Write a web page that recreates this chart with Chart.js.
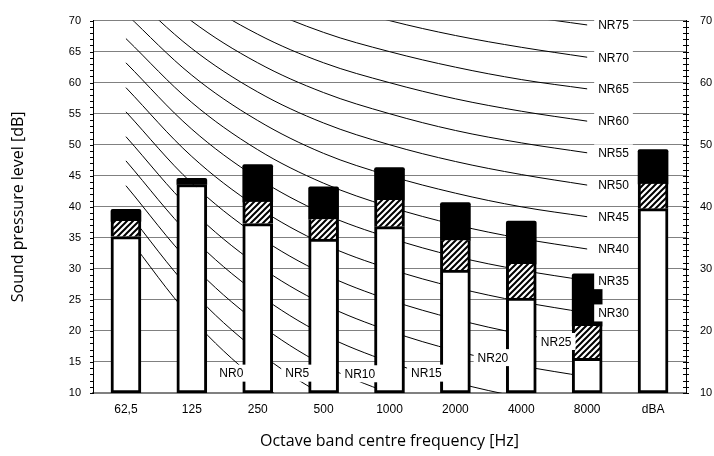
<!DOCTYPE html>
<html>
<head>
<meta charset="utf-8">
<script src="https://cdn.jsdelivr.net/npm/chart.js@4.4.1/dist/chart.umd.min.js"></script>
<style>
  body { margin: 0; background: #fff; }
</style>
</head>
<body>
<canvas id="nrChart" width="714" height="456"></canvas>
<script>
// Octave bands on the x axis
var bands = ['62,5', '125', '250', '500', '1000', '2000', '4000', '8000', 'dBA'];

// Measured levels in dB: top of white part, top of hatched part, top of bar
var baseLevel = [35.2, 43.6, 37.3, 34.8, 36.8, 29.8, 25.3, 15.6, 39.7];
var hatchLevel = [37.7, 43.6, 40.8, 38.0, 41.1, 34.6, 30.8, 20.8, 43.7];
var topLevel = [39.6, 44.6, 46.8, 43.2, 46.3, 40.7, 37.7, 29.2, 49.2];

// Noise rating curves, 62,5 .. 8000 Hz (dB)
var nr0 = [35.5, 22.0, 12.0, 4.8, 0, -3.5, -6.1, -8.0];
var nr5 = [39.5, 26.4, 16.7, 9.7, 5, 1.6, -1.0, -2.9];
var nr10 = [43.4, 30.7, 21.3, 14.5, 10, 6.7, 4.2, 2.3];
var nr15 = [47.4, 35.1, 26.0, 19.4, 15, 11.7, 9.3, 7.5];
var nr20 = [51.3, 39.4, 30.6, 24.3, 20, 16.8, 14.4, 12.6];
var nr25 = [55.3, 43.8, 35.3, 29.2, 25, 21.9, 19.5, 17.8];
var nr30 = [59.2, 48.1, 39.9, 34.0, 30, 27.0, 24.7, 22.9];
var nr35 = [63.2, 52.5, 44.6, 38.9, 35, 32.0, 29.8, 28.1];
var nr40 = [67.1, 56.8, 49.2, 43.8, 40, 37.1, 34.9, 33.2];
var nr45 = [71.1, 61.2, 53.9, 48.6, 45, 42.2, 40.0, 38.4];
var nr50 = [75.0, 65.5, 58.5, 53.5, 50, 47.3, 45.2, 43.5];
var nr55 = [79.0, 69.9, 63.2, 58.4, 55, 52.3, 50.3, 48.7];
var nr60 = [82.9, 74.2, 67.8, 63.2, 60, 57.4, 55.4, 53.8];
var nr65 = [86.9, 78.6, 72.5, 68.1, 65, 62.5, 60.5, 59.0];
var nr70 = [90.8, 82.9, 77.1, 73.0, 70, 67.6, 65.7, 64.1];
var nr75 = [94.8, 87.3, 81.8, 77.9, 75, 72.6, 70.8, 69.3];

var nrCurves = [nr0, nr5, nr10, nr15, nr20, nr25, nr30, nr35, nr40, nr45, nr50, nr55, nr60, nr65, nr70, nr75];
var nrNames = ['NR0', 'NR5', 'NR10', 'NR15', 'NR20', 'NR25', 'NR30', 'NR35',
               'NR40', 'NR45', 'NR50', 'NR55', 'NR60', 'NR65', 'NR70', 'NR75'];

// where the curve labels sit (band index, dB); higher ones sit at the curve end
var nrLabelBand = [1.6, 2.6, 3.55, 4.56, 5.57, 6.53];
var nrLabelLevel = [13.2, 13.2, 13.1, 13.2, 15.7, 18.3];
var nrEndBand = 7.4;

// hatch pattern for the middle part of the bars
function makeHatch() {
    var c = document.createElement('canvas');
    c.width = 6;
    c.height = 6;
    var g = c.getContext('2d');
    g.fillStyle = '#fff';
    g.fillRect(0, 0, 6, 6);
    g.strokeStyle = '#000';
    g.lineWidth = 2;
    g.beginPath();
    g.moveTo(-1, 7); g.lineTo(7, -1);
    g.moveTo(-4, 4); g.lineTo(4, -4);
    g.moveTo(2, 10); g.lineTo(10, 2);
    g.stroke();
    return g.createPattern(c, 'repeat');
}

var datasets = [];

// bars: white bottom, hatched middle, black top
datasets.push({
    type: 'bar',
    data: bands.map(function (b, i) { return [10, baseLevel[i]]; }),
    backgroundColor: '#fff',
    borderColor: '#000',
    borderWidth: 3,
    borderSkipped: false,
    barThickness: 30,
    grouped: false,
    order: 1
});
datasets.push({
    type: 'bar',
    data: bands.map(function (b, i) { return [baseLevel[i], hatchLevel[i]]; }),
    backgroundColor: makeHatch(),
    borderColor: '#000',
    borderWidth: { left: 3, right: 3, top: 0, bottom: 0 },
    borderSkipped: false,
    barThickness: 30,
    grouped: false,
    order: 1
});
datasets.push({
    type: 'bar',
    data: bands.map(function (b, i) { return [hatchLevel[i], topLevel[i]]; }),
    backgroundColor: '#000',
    borderWidth: 0,
    borderRadius: { topLeft: 2, topRight: 2 },
    borderSkipped: false,
    barThickness: 30,
    grouped: false,
    order: 1
});

nrCurves.forEach(function (curve, i) {
    datasets.push({
        type: 'line',
        label: nrNames[i],
        data: curve.concat([null]),
        borderColor: '#000',
        borderWidth: 1,
        pointRadius: 0,
        tension: 0.35,
        fill: false,
        order: 2
    });
});

// minor ticks on both value axes and the NR curve labels
var nrPlugin = {
    id: 'nrExtras',
    afterDatasetsDraw: function (chart) {
        var ctx = chart.ctx;
        var xs = chart.scales.x, ys = chart.scales.y;
        ctx.save();
        ctx.font = '12px "Liberation Sans", Arial, sans-serif';
        ctx.textAlign = 'center';
        ctx.textBaseline = 'middle';
        nrNames.forEach(function (name, i) {
            var band, level;
            if (i < nrLabelBand.length) {
                band = nrLabelBand[i];
                level = nrLabelLevel[i];
            } else {
                band = nrEndBand;
                level = nrCurves[i][nrCurves[i].length - 1];
            }
            var px = xs.getPixelForValue(band);
            var py = ys.getPixelForValue(level);
            var w = ctx.measureText(name).width;
            ctx.fillStyle = '#fff';
            ctx.fillRect(px - w / 2 - 4, py - 8.5, w + 8, 17);
            ctx.fillStyle = '#000';
            ctx.fillText(name, px, py + 1);
        });
        ctx.restore();
    },
    afterDraw: function (chart) {
        var ctx = chart.ctx;
        var ys = chart.scales.y, ys2 = chart.scales.y2;
        ctx.save();
        ctx.strokeStyle = '#000';
        ctx.lineWidth = 1;
        ctx.beginPath();
        for (var v = 10; v <= 70; v++) {
            var py = Math.round(ys.getPixelForValue(v)) + 0.5;
            ctx.moveTo(ys.right - 3, py);
            ctx.lineTo(ys.right, py);
            ctx.moveTo(ys2.left - 3, py);
            ctx.lineTo(ys2.left + 3, py);
        }
        ctx.stroke();
        ctx.restore();
    }
};

var tickFont = { family: '"Liberation Sans", Arial, sans-serif', size: 11 };
var xTickFont = { family: '"Liberation Sans", Arial, sans-serif', size: 12 };
var titleFont = { family: '"Open Sans", sans-serif', size: 16 };

new Chart(document.getElementById('nrChart').getContext('2d'), {
    type: 'bar',
    data: { labels: bands, datasets: datasets },
    options: {
        responsive: false,
        animation: false,
        layout: { padding: { top: 14, left: 0, right: 0, bottom: 0 } },
        plugins: {
            legend: { display: false },
            tooltip: { enabled: false }
        },
        scales: {
            x: {
                grid: { display: false, drawTicks: false },
                border: { color: '#808080', width: 1.5 },
                ticks: { color: '#000', font: xTickFont, padding: 9 },
                title: {
                    display: true,
                    text: 'Octave band centre frequency [Hz]',
                    color: '#000',
                    font: titleFont,
                    padding: { top: 0, bottom: 5 }
                },
                afterFit: function (s) { s.height = 63; }
            },
            y: {
                position: 'left',
                min: 10,
                max: 70,
                ticks: { stepSize: 5, color: '#000', font: tickFont, padding: 12 },
                grid: { color: '#808080', lineWidth: 1, drawTicks: false },
                border: { color: '#000', width: 1 },
                title: {
                    display: true,
                    text: 'Sound pressure level [dB]',
                    color: '#000',
                    font: titleFont,
                    padding: { top: 9, bottom: 0 }
                },
                afterFit: function (s) { s.width = 93; }
            },
            y2: {
                position: 'right',
                min: 10,
                max: 70,
                ticks: { stepSize: 10, color: '#000', font: tickFont, padding: 14 },
                grid: { drawOnChartArea: false, drawTicks: false },
                border: { color: '#000', width: 1 },
                afterFit: function (s) { s.width = 28; }
            }
        }
    },
    plugins: [nrPlugin]
});
</script>
</body>
</html>
